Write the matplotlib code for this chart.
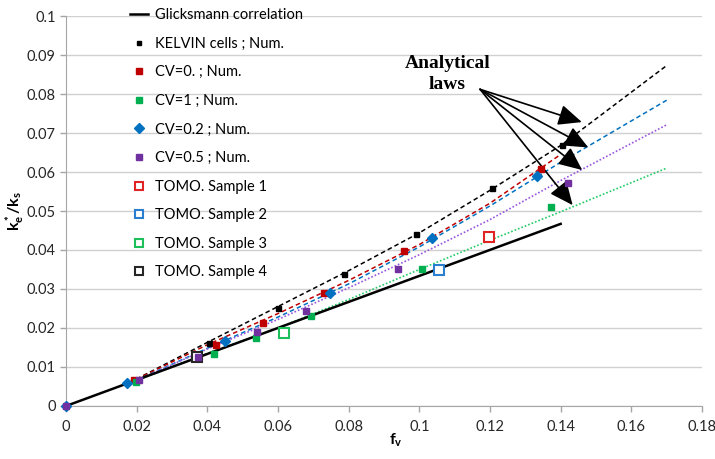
import numpy as np
from matplotlib import pyplot as plt

plt.rcParams['font.family'] = ['Lato', 'DejaVu Sans']
plt.rcParams['mathtext.fontset'] = 'custom'
plt.rcParams['mathtext.rm'] = 'Lato'
plt.rcParams['mathtext.it'] = 'Lato'
plt.rcParams['mathtext.bf'] = 'Lato:bold'

# Glicksmann correlation k/ks = fv/3
glick_f = [0.0, 0.14]
glick_k = [0.0, 0.0467]

# numerical results
kelvin_f = [0.0406, 0.0600, 0.0787, 0.0991, 0.1207, 0.1404]
kelvin_k = [0.0162, 0.0251, 0.0339, 0.0441, 0.0559, 0.0668]
cv0_f = [0.0192, 0.0424, 0.0558, 0.0731, 0.0956, 0.1345]
cv0_k = [0.0066, 0.0156, 0.0212, 0.0289, 0.0398, 0.0608]
cv1_f = [0.0198, 0.0419, 0.0539, 0.0693, 0.1007, 0.1374]
cv1_k = [0.0061, 0.0134, 0.0174, 0.0231, 0.0352, 0.0510]
cv02_f = [0.0, 0.0172, 0.0450, 0.0747, 0.1037, 0.1333]
cv02_k = [0.0, 0.0058, 0.0167, 0.0291, 0.0432, 0.0590]
cv05_f = [0.0, 0.0206, 0.0374, 0.0542, 0.0679, 0.0939, 0.1421]
cv05_k = [0.0, 0.0067, 0.0126, 0.0189, 0.0243, 0.0350, 0.0573]

# tomography samples
tomo_f = [0.1197, 0.1055, 0.0618, 0.0371]
tomo_k = [0.0434, 0.0349, 0.0188, 0.0126]

# analytical laws
law_f = [0.018, 0.04, 0.06, 0.08, 0.10, 0.12, 0.14, 0.17]
law_kelvin = [0.0060, 0.0163, 0.0255, 0.0347, 0.0444, 0.0553, 0.0668, 0.0873]
law_cv0 = [0.0060, 0.0157, 0.0237, 0.0322, 0.0414, 0.0520, 0.0645]
law_cv02 = [0.0058, 0.0148, 0.0228, 0.0313, 0.0408, 0.0513, 0.0625, 0.0784]
law_cv05 = [0.0058, 0.0146, 0.0222, 0.0303, 0.0388, 0.0478, 0.0578, 0.0721]
law_cv1 = [0.0058, 0.0135, 0.0200, 0.0273, 0.0350, 0.0425, 0.0498, 0.0610]

red = '#C00000'
green = '#00B050'
blue = '#0070C0'
purple = '#7030A0'

fig = plt.figure(figsize=(7.15, 4.59), dpi=100)
ax = fig.add_axes([0.0923, 0.1155, 0.8895, 0.8496])

dash = (0, (3, 2))
dot = (0, (1, 1.2))
ax.plot(law_f, law_kelvin, color='black', ls=dash, lw=1.1, zorder=2)
ax.plot(law_f[:len(law_cv0)], law_cv0, color=red, ls=dash, lw=1.1, zorder=2)
ax.plot(law_f, law_cv02, color=blue, ls=dash, lw=1.1, zorder=2)
ax.plot(law_f, law_cv05, color='#9955dd', ls=dot, lw=1.2, zorder=2)
ax.plot(law_f, law_cv1, color='#22cc66', ls=dot, lw=1.2, zorder=2)

ax.plot(glick_f, glick_k, color='black', lw=1.8, zorder=2, label='Glicksmann correlation')
ax.plot(kelvin_f, kelvin_k, 's', color='black', ms=3.6, ls='none', zorder=4, label='KELVIN cells ; Num.')
ax.plot(cv0_f, cv0_k, 's', color=red, ms=5, ls='none', zorder=4, label='CV=0. ; Num.')
ax.plot(cv1_f, cv1_k, 's', color=green, ms=5, ls='none', zorder=4, label='CV=1 ; Num.')
ax.plot(cv02_f, cv02_k, 'D', color=blue, ms=5.5, ls='none', zorder=4, clip_on=False,
        label='CV=0.2 ; Num.')
ax.plot(cv05_f, cv05_k, 's', color=purple, ms=5, ls='none', zorder=5, clip_on=False,
        label='CV=0.5 ; Num.')

tomo_cols = ['#E02424', '#2B7FD0', '#1DBF5A', '#262626']
for i in range(4):
    ax.plot(tomo_f[i], tomo_k[i], 's', mfc='white', mec=tomo_cols[i], mew=1.5, ms=6.5,
            ls='none', zorder=4, label='TOMO. Sample %d' % (i + 1))

# arrows pointing at the analytical curves
ax.text(0.1079, 0.0851, 'Analytical\nlaws', family='Liberation Serif', weight='bold',
        fontsize=14, ha='center', va='center', linespacing=1.25)
tail = (0.1172, 0.0812)
for head in [(0.1460, 0.0728), (0.1478, 0.0663), (0.1461, 0.0605), (0.1434, 0.0515)]:
    ax.annotate('', xy=head, xytext=tail,
                arrowprops=dict(arrowstyle='-|>,head_length=0.9,head_width=0.4',
                                color='black', lw=1.2, shrinkA=0, shrinkB=0,
                                mutation_scale=16))

ax.set_xlim(0, 0.18)
ax.set_ylim(0, 0.1)
ax.set_xticks(np.arange(0, 0.181, 0.02))
ax.set_xticklabels(['0', '0.02', '0.04', '0.06', '0.08', '0.1', '0.12', '0.14', '0.16', '0.18'])
ax.set_yticks(np.arange(0, 0.101, 0.01))
ax.set_yticklabels(['0', '0.01', '0.02', '0.03', '0.04', '0.05', '0.06', '0.07', '0.08', '0.09', '0.1'])
ax.tick_params(axis='both', labelsize=10.5, colors='#a6a6a6', labelcolor='#262626', length=4, width=1)
ax.tick_params(axis='x', pad=6)
ax.grid(axis='y', color='#d0d0d0', lw=1)
ax.set_axisbelow(True)
for s in ['top', 'right']:
    ax.spines[s].set_visible(False)
for s in ['left', 'bottom']:
    ax.spines[s].set_color('#a6a6a6')

ax.set_xlabel(r'$\mathbf{f_v}$', fontsize=11.5)
ax.xaxis.set_label_coords(0.518, -0.065)
ax.set_ylabel(r'$\mathbf{k^*_e/k_s}$', fontsize=11.5)
ax.yaxis.set_label_coords(-0.062, 0.5)

ax.legend(loc='upper left', bbox_to_anchor=(0.1006, 1.02), frameon=False, fontsize=10.5,
          handlelength=1.25, handletextpad=0.5, labelspacing=1.0, borderpad=0, borderaxespad=0,
          markerscale=0.85)

plt.savefig('out.png', dpi=100)
